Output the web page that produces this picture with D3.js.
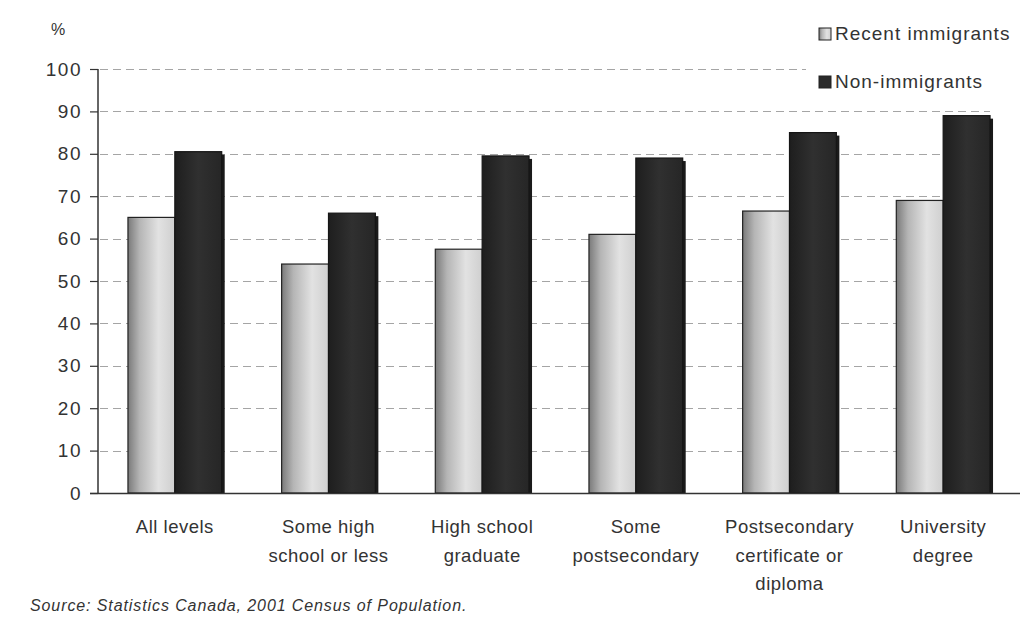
<!DOCTYPE html>
<html>
<head>
<meta charset="utf-8">
<script src="https://cdn.jsdelivr.net/npm/d3@7/dist/d3.min.js"></script>
<style>
  html, body { margin: 0; padding: 0; background: #fff; }
  svg { display: block; }
  text { font-family: "Liberation Sans", Arial, sans-serif; fill: #333; }
</style>
</head>
<body>
<svg id="chart" width="1021" height="622"></svg>
<script>
// Employment rate by education level, 2001
const categories = [
  ["All levels"],
  ["Some high", "school or less"],
  ["High school", "graduate"],
  ["Some", "postsecondary"],
  ["Postsecondary", "certificate or", "diploma"],
  ["University", "degree"]
];
const seriesNames = ["Recent immigrants", "Non-immigrants"];
const recentImmigrants = [65, 54, 57.5, 61, 66.5, 69];
const nonImmigrants = [80.5, 66, 79.5, 79, 85, 89];
const yTicks = [0, 10, 20, 30, 40, 50, 60, 70, 80, 90, 100];
const sourceNote = "Source: Statistics Canada, 2001 Census of Population.";

const svg = d3.select("#chart");
const margin = { left: 98, right: 1, top: 69, bottom: 129 };
const W = 1021, H = 622;
const plotBottom = H - margin.bottom; // 493

const x = d3.scaleBand()
  .domain(d3.range(categories.length))
  .range([margin.left, W - margin.right])
  .paddingInner(0.39)
  .paddingOuter(0.195);

const xs = d3.scaleBand()
  .domain([0, 1])
  .range([0, x.bandwidth()]);

const y = d3.scaleLinear().domain([0, 100]).range([plotBottom, margin.top]);

const defs = svg.append("defs");
const gLight = defs.append("linearGradient").attr("id", "lightGrad")
  .attr("x1", "0%").attr("x2", "100%").attr("y1", "0%").attr("y2", "0%");
gLight.append("stop").attr("offset", "0%").attr("stop-color", "#7a7a7a");
gLight.append("stop").attr("offset", "25%").attr("stop-color", "#b5b5b5");
gLight.append("stop").attr("offset", "65%").attr("stop-color", "#e2e2e2");
gLight.append("stop").attr("offset", "100%").attr("stop-color", "#cfcfcf");

const gDark = defs.append("linearGradient").attr("id", "darkGrad")
  .attr("x1", "0%").attr("x2", "100%").attr("y1", "0%").attr("y2", "0%");
gDark.append("stop").attr("offset", "0%").attr("stop-color", "#1e1e1e");
gDark.append("stop").attr("offset", "50%").attr("stop-color", "#303030");
gDark.append("stop").attr("offset", "100%").attr("stop-color", "#262626");

// Gridlines
svg.append("g")
  .selectAll("line")
  .data(yTicks.filter(t => t > 0))
  .join("line")
  .attr("x1", margin.left + 2)
  .attr("x2", 990)
  .attr("y1", d => Math.round(y(d)) + 0.5)
  .attr("y2", d => Math.round(y(d)) + 0.5)
  .attr("stroke", "#a5a5a5")
  .attr("stroke-width", 1)
  .attr("stroke-dasharray", "8,5");

// Bars
const groups = svg.append("g")
  .selectAll("g")
  .data(categories.map((c, i) => ({ i, vals: [recentImmigrants[i], nonImmigrants[i]] })))
  .join("g")
  .attr("transform", d => `translate(${x(d.i)},0)`);

groups.append("rect")
  .attr("x", xs(0))
  .attr("y", d => y(d.vals[0]))
  .attr("width", xs.bandwidth())
  .attr("height", d => plotBottom - y(d.vals[0]))
  .attr("fill", "url(#lightGrad)")
  .attr("stroke", "#222")
  .attr("stroke-width", 1.2);

// Dark bar side shading
groups.append("rect")
  .attr("x", xs(1) + xs.bandwidth() - 1)
  .attr("y", d => y(d.vals[1]) + 3)
  .attr("width", 4)
  .attr("height", d => plotBottom - y(d.vals[1]) - 3)
  .attr("fill", "#1a1a1a");

groups.append("rect")
  .attr("x", xs(1))
  .attr("y", d => y(d.vals[1]))
  .attr("width", xs.bandwidth())
  .attr("height", d => plotBottom - y(d.vals[1]))
  .attr("fill", "url(#darkGrad)")
  .attr("stroke", "#151515")
  .attr("stroke-width", 1.2);

// Y axis
const yAxis = svg.append("g")
  .attr("transform", `translate(${margin.left},0)`)
  .call(d3.axisLeft(y).tickValues(yTicks).tickSize(8).tickPadding(8));
yAxis.select(".domain").attr("stroke", "#333").attr("stroke-width", 1.5)
  .attr("d", `M0,${y(100)}V${plotBottom}`);
yAxis.selectAll(".tick line").attr("stroke", "#333").attr("stroke-width", 1.2);
yAxis.selectAll(".tick text")
  .style("font-family", "'Liberation Sans', Arial, sans-serif")
  .style("font-size", "19px")
  .style("letter-spacing", "1.5px")
  .attr("fill", "#333");

// X axis baseline
svg.append("line")
  .attr("x1", margin.left - 8).attr("x2", W - 1)
  .attr("y1", plotBottom + 0.5).attr("y2", plotBottom + 0.5)
  .attr("stroke", "#333").attr("stroke-width", 1.5);

// Category labels
const labels = svg.append("g")
  .selectAll("text")
  .data(categories.map((c, i) => ({ i, lines: c })))
  .join("text")
  .attr("x", d => x(d.i) + x.bandwidth() / 2)
  .attr("y", 533)
  .attr("text-anchor", "middle")
  .style("font-size", "18.5px")
  .style("letter-spacing", "0.5px");
labels.selectAll("tspan")
  .data(d => d.lines.map(l => ({ l, cx: x(d.i) + x.bandwidth() / 2 })))
  .join("tspan")
  .attr("x", d => d.cx)
  .attr("dy", (d, j) => j === 0 ? 0 : 28.5)
  .text(d => d.l);

// Unit label
svg.append("text")
  .attr("x", 51).attr("y", 35)
  .style("font-size", "16px")
  .text("%");

// Legend
svg.append("rect")
  .attr("x", 806).attr("y", 14)
  .attr("width", 215).attr("height", 90)
  .attr("fill", "#fff");
const legendFills = ["url(#lightGrad)", "#2a2a2a"];
const legend = svg.append("g")
  .selectAll("g")
  .data(seriesNames)
  .join("g")
  .attr("transform", (d, i) => `translate(819,${28 + i * 48})`);
legend.append("rect")
  .attr("width", 12).attr("height", 12)
  .attr("fill", (d, i) => legendFills[i])
  .attr("stroke", "#222");
legend.append("text")
  .attr("x", 16).attr("y", 12)
  .style("font-size", "19px")
  .style("letter-spacing", "1px")
  .text(d => d);

// Source note
svg.append("text")
  .attr("x", 30).attr("y", 611)
  .style("font-size", "16px")
  .style("font-style", "italic")
  .style("letter-spacing", "0.9px")
  .text(sourceNote);
</script>
</body>
</html>
